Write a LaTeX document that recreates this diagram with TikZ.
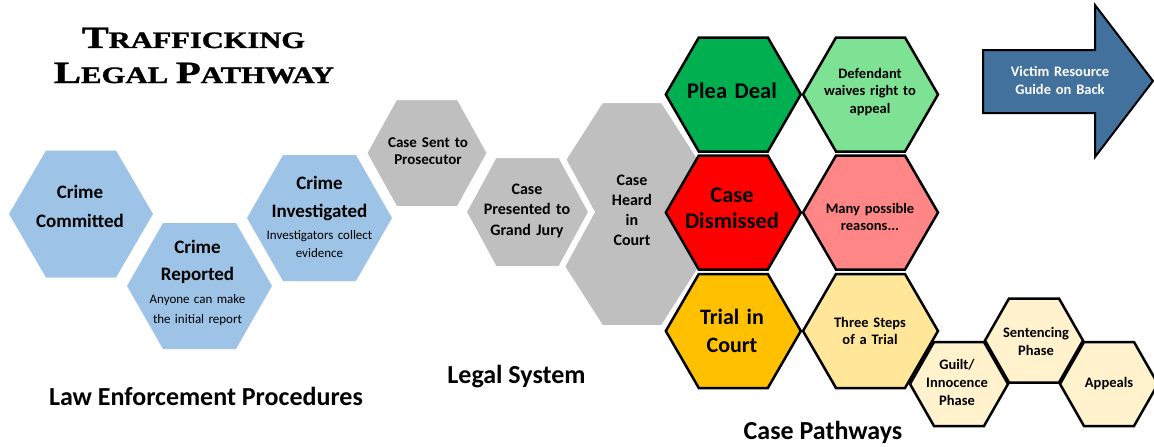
\documentclass[tikz,border=0pt]{standalone}
\usepackage{fontspec}
\setmainfont{Carlito}
\newfontfamily\titlefont{Liberation Serif Bold}[FakeBold=1.2]
\usepackage{graphicx}
\definecolor{hexblue}{RGB}{157,195,230}
\definecolor{hexgray}{RGB}{191,191,191}
\definecolor{pleagreen}{RGB}{0,176,80}
\definecolor{lightgreen}{RGB}{126,226,148}
\definecolor{dismissred}{RGB}{255,0,0}
\definecolor{lightred}{RGB}{255,134,134}
\definecolor{trialorange}{RGB}{255,192,0}
\definecolor{lightorange}{RGB}{255,230,153}
\definecolor{paleorange}{RGB}{255,242,204}
\definecolor{arrowblue}{RGB}{65,113,156}
\tikzset{
  bluehex/.style={fill=hexblue},
  grayhex/.style={fill=hexgray, draw=white, line width=6pt, line join=miter},
  colhex/.style={draw=black, line width=2.5pt, line join=miter},
  lbl/.style={anchor=base, align=center, text width=160pt, inner sep=0pt},
  seclbl/.style={anchor=base, inner sep=0pt, font=\fontsize{26}{30}\selectfont\bfseries},
}
% style, cx, cy, R (half width), H (half height), a (slant inset)
\newcommand\hexshape[6]{%
  \path[#1] ({#2-#4},#3) -- ({#2-#4+#6},{#3-#5}) -- ({#2+#4-#6},{#3-#5})
    -- ({#2+#4},#3) -- ({#2+#4-#6},{#3+#5}) -- ({#2-#4+#6},{#3+#5}) -- cycle;}
\begin{document}
\begin{tikzpicture}[x=1pt,y=-1pt]
\useasboundingbox (0,0) rectangle (1154,447);
\clip (0,0) rectangle (1154,447);

% Title
\node[anchor=base, inner sep=0pt] (title1) at (193.5,48)
  {\resizebox{223pt}{\height}{\titlefont\fontsize{31}{32}\selectfont T\fontsize{23.5}{24}\selectfont RAFFICKING}};
\node[anchor=base, inner sep=0pt] (title2) at (194,83)
  {\resizebox{280pt}{\height}{\titlefont\fontsize{31}{32}\selectfont L\fontsize{23.5}{24}\selectfont EGAL \fontsize{31}{32}\selectfont P\fontsize{23.5}{24}\selectfont ATHWAY}};

% Law enforcement (blue)
\hexshape{bluehex}{81}{214}{72}{63.5}{37}
\hexshape{bluehex}{199.5}{286}{72.5}{63}{36}
\hexshape{bluehex}{319.5}{218}{72.5}{63}{36}

% Legal system (gray)
\hexshape{grayhex}{632}{214}{104}{114}{73}
\hexshape{grayhex}{427}{153}{63}{56}{31}
\hexshape{grayhex}{527.5}{212}{64}{57}{31}

% Case pathways
\hexshape{colhex, fill=pleagreen}{733.3}{94.5}{67.5}{57}{33}
\hexshape{colhex, fill=dismissred}{733.3}{212.5}{67.5}{57}{33}
\hexshape{colhex, fill=trialorange}{733.3}{331}{67.5}{57}{33}
\hexshape{colhex, fill=lightgreen}{870.5}{94.5}{67.5}{57}{33}
\hexshape{colhex, fill=lightred}{870.5}{212.5}{67.5}{57}{33}
\hexshape{colhex, fill=lightorange}{870.5}{331}{67.5}{57}{33}
\hexshape{colhex, fill=paleorange}{959}{384}{49}{42}{24}
\hexshape{colhex, fill=paleorange}{1034}{340.5}{49}{42}{24}
\hexshape{colhex, fill=paleorange}{1109}{384}{49}{42}{24}

% Arrow
\path[draw=black, line width=2pt, fill=arrowblue, line join=miter]
  (983,50) -- (1095,50) -- (1095,5) -- (1153,81) -- (1095,157) -- (1095,113) -- (983,113) -- cycle;

% Texts
\node[lbl, font=\fontsize{19}{29}\selectfont\bfseries] (committed) at (80,198) {Crime\\Committed};
\node[lbl, font=\fontsize{19}{27}\selectfont\bfseries] (reported) at (197.5,253) {Crime\\Reported};
\node[lbl, font=\fontsize{13}{20}\selectfont] (reportedsub) at (197.5,303) {Anyone can make\\the initial report};
\node[lbl, font=\fontsize{19}{28}\selectfont\bfseries] (investigated) at (319.5,189) {Crime\\Investigated};
\node[lbl, font=\fontsize{13}{18}\selectfont] (investigatedsub) at (319.5,239) {Investigators collect\\evidence};

\node[lbl, font=\fontsize{15}{17.5}\selectfont\bfseries] (prosecutor) at (428,147) {Case Sent to\\Prosecutor};
\node[lbl, font=\fontsize{16}{20.5}\selectfont\bfseries] (grandjury) at (527,194) {Case\\Presented to\\Grand Jury};
\node[lbl, font=\fontsize{16}{20}\selectfont\bfseries] (heard) at (632,185) {Case\\Heard\\in\\Court};

\node[lbl, font=\fontsize{22.5}{26}\selectfont\bfseries] (plea) at (732,98) {Plea Deal};
\node[lbl, font=\fontsize{22.5}{26}\selectfont\bfseries] (dismissed) at (732,202) {Case\\Dismissed};
\node[lbl, font=\fontsize{22}{28}\selectfont\bfseries] (trial) at (732,324) {Trial in\\Court};
\node[lbl, font=\fontsize{14.5}{17.5}\selectfont\bfseries] (waive) at (870,78) {Defendant\\waives right to\\appeal};
\node[lbl, font=\fontsize{14.5}{17}\selectfont\bfseries] (reasons) at (870,213) {Many possible\\reasons...};
\node[lbl, font=\fontsize{14.5}{17}\selectfont\bfseries] (steps) at (870,327) {Three Steps\\of a Trial};
\node[lbl, font=\fontsize{14.5}{18}\selectfont\bfseries] (guilt) at (957,369) {Guilt/\\Innocence\\Phase};
\node[lbl, font=\fontsize{14.5}{18}\selectfont\bfseries] (sentencing) at (1036,337) {Sentencing\\Phase};
\node[lbl, font=\fontsize{14.5}{18}\selectfont\bfseries] (appeals) at (1109,387) {Appeals};
\node[lbl, font=\fontsize{14.5}{18}\selectfont\bfseries, text=white] (victim) at (1060,76) {Victim Resource\\Guide on Back};

\node[seclbl] (lawlbl) at (206,405) {Law Enforcement Procedures};
\node[seclbl] (legallbl) at (516.5,383) {Legal System};
\node[seclbl] (pathlbl) at (823,439) {Case Pathways};
\end{tikzpicture}
\end{document}
